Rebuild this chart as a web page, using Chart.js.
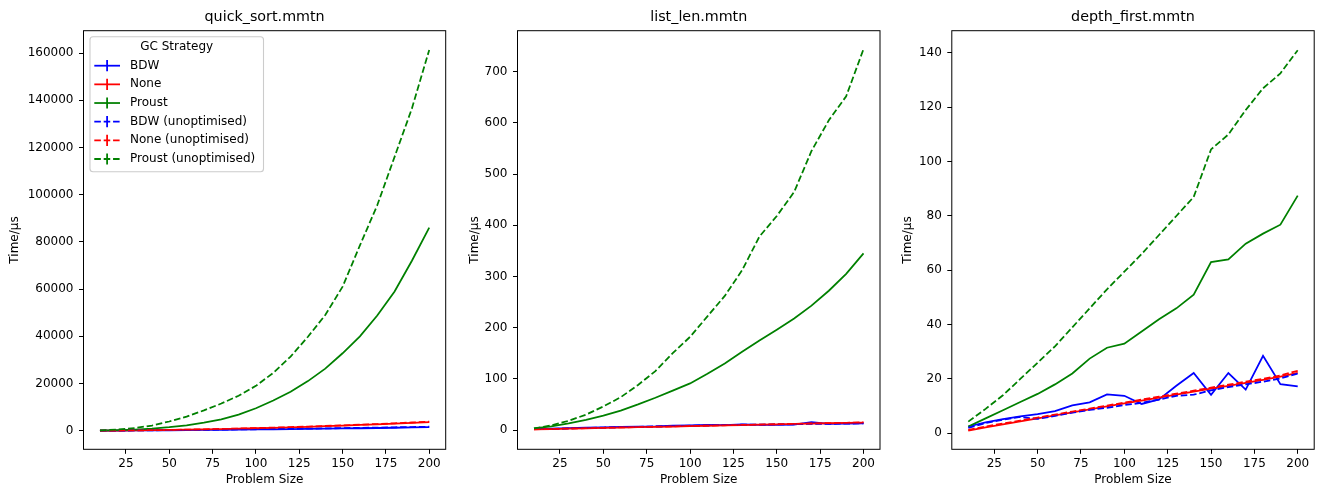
<!DOCTYPE html>
<html><head><meta charset="utf-8">
<script src="https://cdn.jsdelivr.net/npm/chart.js@4.4.1/dist/chart.umd.min.js"></script>
<style>
html,body{margin:0;padding:0;background:#fff;width:1317px;height:488px;overflow:hidden}
canvas{position:absolute;left:0;top:0}
</style></head><body>
<canvas id="c0" width="1317" height="488"></canvas>
<canvas id="c1" width="1317" height="488"></canvas>
<canvas id="c2" width="1317" height="488"></canvas>
<script>
// ---------- data ----------
const problemSizes = [10,20,30,40,50,60,70,80,90,100,110,120,130,140,150,160,170,180,190,200];
const xTicks = [25,50,75,100,125,150,175,200];
const seriesNames = ['BDW','None','Proust','BDW (unoptimised)','None (unoptimised)','Proust (unoptimised)'];
const panelTitles = ['quick_sort.mmtn','list_len.mmtn','depth_first.mmtn'];

// quick_sort.mmtn
const qsBDW    = [20,50,90,140,190,250,310,380,450,520,600,680,760,850,940,1040,1140,1250,1360,1480];
const qsNone   = [20,60,120,200,300,420,550,700,860,1040,1230,1440,1660,1900,2150,2420,2700,3000,3320,3650];
const qsProust = [80,250,500,900,1500,2300,3400,4800,6800,9500,12800,16500,21000,26300,32800,40000,48800,59000,72000,86000];
const qsBDWu   = [25,60,105,160,220,290,360,440,520,600,690,780,880,980,1090,1200,1320,1440,1560,1680];
const qsNoneu  = [25,70,135,220,325,450,590,745,915,1100,1300,1520,1750,2000,2260,2540,2830,3140,3470,3820];
const qsProustu= [150,500,1100,2200,3900,6000,8600,11500,14800,19000,24500,31400,39800,49000,61000,78500,95500,116000,136500,161300];
const qsYTicks = [0,20000,40000,60000,80000,100000,120000,140000,160000];

// list_len.mmtn
const llBDW    = [1.5,2.5,3.5,4.5,5,6,6.5,7,8.5,9,10,9.5,11,10,10,10.5,15.5,12,12.5,13];
const llNone   = [1,1.7,2.5,3.2,4,4.7,5.4,6.1,6.8,7.5,8.3,9,9.7,10.4,11.1,11.8,12.5,13.2,13.9,14.6];
const llProust = [3,7,13,20,28,38,50,63,77,91,110,130,153,175,196,218,243,272,305,345];
const llBDWu   = [1.5,2.3,3.2,4,4.8,5.6,6.3,7,7.8,8.5,9.2,9.8,10.3,10.5,10.8,11.2,12,12,12.5,13];
const llNoneu  = [1.2,2,2.8,3.5,4.3,5,5.7,6.4,7.1,7.8,8.5,9.2,9.9,10.6,11.3,12,12.7,13.4,14.1,14.8];
const llProustu= [3,9,18,30,46,64,88,115,150,182,222,262,312,378,418,465,545,605,652,744];
const llYTicks = [0,100,200,300,400,500,600,700];

// depth_first.mmtn
const dfBDW    = [2.5,4,5.2,6.2,7.1,8.2,10.3,11.4,14.3,13.8,10.8,12.5,17.5,22.2,14.2,22.2,16.1,28.5,18.1,17.3];
const dfNone   = [1,2.2,3.3,4.4,5.5,6.6,7.7,8.8,9.9,11,12,13.1,14.2,15.3,16.4,17.5,18.6,19.7,20.9,22.2];
const dfProust = [2.5,5.5,8.5,11.5,14.5,18,22,27.5,31.5,33,37.5,42,46,51,63,64,69.8,73.5,76.8,87.5];
const dfBDWu   = [2,3.8,5,6,5.3,6.4,7.6,8.6,9.4,10.4,11.2,12.4,13.8,14.2,15.8,17,18,19,20.2,22];
const dfNoneu  = [1.3,2.5,3.6,4.7,5.8,6.9,8,9.1,10.2,11.3,12.4,13.5,14.6,15.7,16.8,17.9,19,20.1,21.3,23];
const dfProustu= [4.3,9,14,20,26,32,39,46,53,59.5,66,73,80,87,104.5,110,119,127,132.5,141];
const dfYTicks = [0,20,40,60,80,100,120,140];

// ---------- styling / layout ----------
const FONT = 'DejaVu Sans';
const FS = 12;
const colors = ['#0000ff','#ff0000','#008000','#0000ff','#ff0000','#008000'];
const LW = 1.77;
const DASH = [6.55, 2.83];
const panels = [
  {id:'c0', series:[qsBDW,qsNone,qsProust,qsBDWu,qsNoneu,qsProustu], yTicks:qsYTicks, yMin:-7880, yMax:169450, L:83.5, R:445.7, yTitleX:15.3, legend:true},
  {id:'c1', series:[llBDW,llNone,llProust,llBDWu,llNoneu,llProustu], yTicks:llYTicks, yMin:-37.7, yMax:780.0, L:517.5, R:880, yTitleX:475, legend:false},
  {id:'c2', series:[dfBDW,dfNone,dfProust,dfBDWu,dfNoneu,dfProustu], yTicks:dfYTicks, yMin:-5.89, yMax:148.2, L:951.8, R:1314.2, yTitleX:908, legend:false}
];
const TOP = 30.7, BOTTOM = 449.3, H = 488, W = 1317;
const tickFont = {family: FONT, size: FS};
const lh = FS*1.2;
const TITLE_FS = 14.3;

const framePlugin = {
  id:'frame',
  afterDraw(chart){
    const {ctx, chartArea:a} = chart;
    ctx.save();
    ctx.strokeStyle = '#000'; ctx.lineWidth = 1;
    ctx.strokeRect(a.left, a.top, a.right-a.left, a.bottom-a.top);
    ctx.restore();
  }
};

const legendPlugin = {
  id:'mplLegend',
  afterDraw(chart, args, opts){
    if (!opts || !opts.show) return;
    const ctx = chart.ctx;
    ctx.save();
    const x0 = 90, y0 = 36.7, x1 = 263.5, y1 = 171.7, r = 3;
    ctx.beginPath();
    ctx.moveTo(x0+r,y0); ctx.lineTo(x1-r,y0); ctx.quadraticCurveTo(x1,y0,x1,y0+r);
    ctx.lineTo(x1,y1-r); ctx.quadraticCurveTo(x1,y1,x1-r,y1);
    ctx.lineTo(x0+r,y1); ctx.quadraticCurveTo(x0,y1,x0,y1-r);
    ctx.lineTo(x0,y0+r); ctx.quadraticCurveTo(x0,y0,x0+r,y0);
    ctx.closePath();
    ctx.fillStyle = 'rgba(255,255,255,0.8)'; ctx.fill();
    ctx.strokeStyle = '#cccccc'; ctx.lineWidth = 1.1; ctx.stroke();
    ctx.font = FS + 'px "DejaVu Sans"';
    ctx.fillStyle = '#000';
    ctx.textBaseline = 'middle';
    ctx.textAlign = 'center';
    ctx.fillText('GC Strategy', 176.7, 46.7);
    ctx.textAlign = 'left';
    seriesNames.forEach((name, i) => {
      const y = 65.7 + 18.66*i;
      ctx.strokeStyle = colors[i]; ctx.lineWidth = LW;
      ctx.setLineDash(i >= 3 ? DASH : []);
      ctx.beginPath(); ctx.moveTo(94.3, y); ctx.lineTo(120, y); ctx.stroke();
      ctx.setLineDash([]);
      ctx.beginPath(); ctx.moveTo(107.1, y-5.6); ctx.lineTo(107.1, y+5.6); ctx.stroke();
      ctx.fillStyle = '#000';
      ctx.fillText(name, 130, y);
    });
    ctx.restore();
  }
};

panels.forEach((p, k) => {
  const padLeft = p.yTitleX - lh/2;
  const datasets = p.series.map((arr, i) => ({
    label: seriesNames[i],
    data: problemSizes.map((x, j) => ({x, y: arr[j]})),
    borderColor: colors[i],
    backgroundColor: colors[i],
    borderWidth: LW,
    borderDash: i >= 3 ? DASH : [],
    pointRadius: 0,
    tension: 0,
    fill: false,
    order: 6 - i
  }));
  new Chart(document.getElementById(p.id), {
    type: 'line',
    data: {datasets},
    plugins: [framePlugin, legendPlugin],
    options: {
      responsive: false,
      animation: false,
      devicePixelRatio: 1,
      events: [],
      layout: {padding: {left: padLeft, right: W - p.R, top: 0, bottom: 1.42}},
      plugins: {
        legend: {display: false},
        tooltip: {enabled: false},
        title: {display: true, text: panelTitles[k], fullSize: false, color: '#000',
                font: {family: FONT, size: TITLE_FS, weight: 'normal'},
                padding: {top: 9, bottom: TOP - 9 - TITLE_FS*1.2}},
        mplLegend: {show: p.legend}
      },
      scales: {
        x: {
          type: 'linear', min: 0.5, max: 209.5,
          afterBuildTicks: s => { s.ticks = xTicks.map(v => ({value: v})); },
          afterFit: s => { s.height = H - 1.42 - BOTTOM; },
          grid: {drawOnChartArea: false, drawTicks: true, tickLength: 4.5, tickColor: '#000', tickWidth: 1},
          border: {display: false},
          ticks: {color: '#000', font: tickFont, padding: 2.4, maxRotation: 0, autoSkip: false, callback: v => String(v)},
          title: {display: true, text: 'Problem Size', color: '#000', font: {family: FONT, size: FS}, padding: {top: 0, bottom: 0}}
        },
        y: {
          type: 'linear', min: p.yMin, max: p.yMax,
          afterBuildTicks: s => { s.ticks = p.yTicks.map(v => ({value: v})); },
          afterFit: s => { s.width = p.L - padLeft; },
          grid: {drawOnChartArea: false, drawTicks: true, tickLength: 4.5, tickColor: '#000', tickWidth: 1},
          border: {display: false},
          ticks: {color: '#000', font: tickFont, padding: 5.5, autoSkip: false, callback: v => String(v)},
          title: {display: true, text: 'Time/µs', color: '#000', font: {family: FONT, size: FS}, padding: {top: 0, bottom: 0}}
        }
      }
    }
  });
});
</script>
</body></html>
